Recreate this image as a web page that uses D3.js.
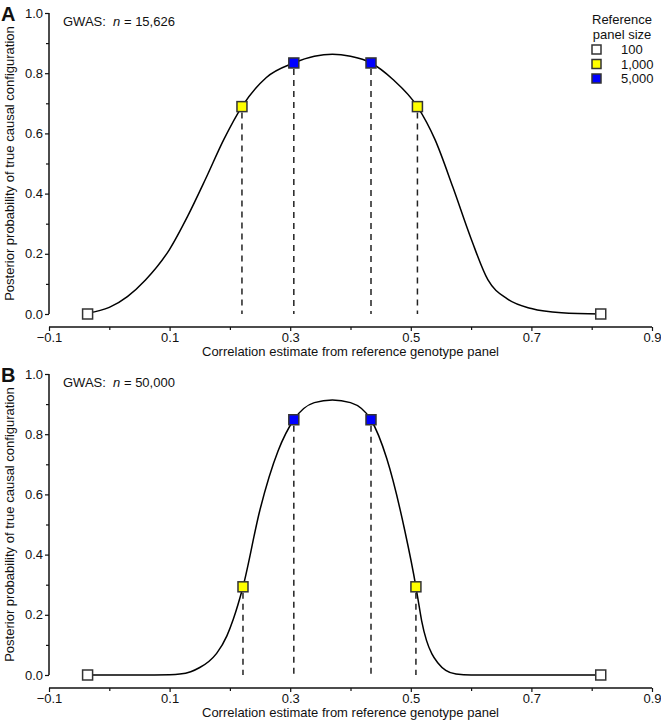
<!DOCTYPE html>
<html><head><meta charset="utf-8">
<script src="https://cdn.jsdelivr.net/npm/d3@7"></script>
<style>body{margin:0;background:#fff}svg text{font-family:"Liberation Sans",Arial,Helvetica,sans-serif;fill:#111}</style>
</head><body><svg id="c" width="661" height="720"></svg>
<script>
// ---- data ----
const panelSizes = ["100", "1,000", "5,000"];
const xTicks = [-0.1, 0.1, 0.3, 0.5, 0.7, 0.9];
const yTicks = [0.0, 0.2, 0.4, 0.6, 0.8, 1.0];
const gwasN = ["15,626", "50,000"];
// marker estimates (lower / upper) for each panel size
const estLow  = [-0.036, 0.220, 0.306];
const estHigh = [0.815, 0.511, 0.434];
const estLowB  = [-0.036, 0.2217, 0.306];
const estHighB = [0.815, 0.5085, 0.434];
const postA = [0.0, 0.689, 0.834];
const postB = [0.0, 0.293, 0.848];
// posterior curves
const curveAx = [-0.036, 0.0, 0.03, 0.06, 0.10, 0.13, 0.16, 0.19, 0.22, 0.26, 0.306, 0.34, 0.37, 0.40, 0.434, 0.47, 0.511, 0.54, 0.57, 0.60, 0.628, 0.66, 0.70, 0.75, 0.815];
const curveAy = [0.003, 0.022, 0.058, 0.113, 0.215, 0.325, 0.45, 0.58, 0.689, 0.785, 0.834, 0.856, 0.863, 0.856, 0.834, 0.78, 0.689, 0.58, 0.42, 0.25, 0.113, 0.05, 0.018, 0.004, 0.0];
const curveBx = [-0.036, 0.05, 0.10, 0.117, 0.135, 0.150, 0.165, 0.178, 0.195, 0.2056, 0.2217, 0.25, 0.28, 0.306, 0.34, 0.37, 0.40, 0.434, 0.46, 0.49, 0.5085, 0.5125, 0.518, 0.526, 0.535, 0.545, 0.558, 0.575, 0.60, 0.815];
const curveBy = [0.0, 0.0, 0.001, 0.003, 0.011, 0.025, 0.045, 0.072, 0.13, 0.185, 0.293, 0.55, 0.745, 0.848, 0.905, 0.914, 0.905, 0.848, 0.72, 0.48, 0.293, 0.245, 0.18, 0.115, 0.07, 0.04, 0.015, 0.003, 0.0, 0.0];

// ---- drawing ----
const svg = d3.select("#c");
const fills = ["#ffffff", "#ffff00", "#0000ff"];
const x = d3.scaleLinear().domain([-0.1, 0.9]).range([49, 652]);
const FS = 13;

const panels = [
  {letter: "A", top: 0, n: gwasN[0], lo: estLow, hi: estHigh, post: postA, cx: curveAx, cy: curveAy},
  {letter: "B", top: 361, n: gwasN[1], lo: estLowB, hi: estHighB, post: postB, cx: curveBx, cy: curveBy}
];

panels.forEach(p => {
  const g = svg.append("g").attr("transform", `translate(0,${p.top})`);
  const y = d3.scaleLinear().domain([0, 1]).range([314, 13]);

  // y axis
  const ya = g.append("g").attr("transform", "translate(49,0)")
    .call(d3.axisLeft(y).tickValues(yTicks).tickFormat(d3.format(".1f")).tickSize(4).tickPadding(2));
  g.append("g").attr("transform", "translate(49,0)")
    .call(d3.axisLeft(y).tickValues(d3.range(0.1, 1, 0.2)).tickFormat("").tickSize(3))
    .select(".domain").remove();
  // x axis
  const xa = g.append("g").attr("transform", "translate(0,327)")
    .call(d3.axisBottom(x).tickValues(xTicks).tickFormat(d => d3.format(".1f")(d)).tickSize(4).tickPadding(2));
  g.append("g").attr("transform", "translate(0,327)")
    .call(d3.axisBottom(x).tickValues(d3.range(0.0, 0.85, 0.2)).tickFormat("").tickSize(3))
    .select(".domain").remove();
  g.selectAll(".domain").attr("stroke", "#111").attr("stroke-width", 1.5);
  g.selectAll(".tick line").attr("stroke", "#111").attr("stroke-width", 1.2);
  g.selectAll(".tick text").attr("font-size", FS).attr("fill", "#111")
    .style("font-family", '"Liberation Sans", Arial, sans-serif');
  ya.select(".domain").attr("d", `M0,${y(1)}V${y(0)}`);
  xa.select(".domain").attr("d", `M${x(-0.1)},0H${x(0.9)}`);

  // axis titles
  g.append("text").attr("x", x(0.4)).attr("y", 356).attr("text-anchor", "middle")
    .attr("font-size", FS).text("Correlation estimate from reference genotype panel");
  g.append("text").attr("transform", `translate(14,${(y(0) + y(1)) / 2}) rotate(-90)`)
    .attr("text-anchor", "middle").attr("font-size", FS)
    .text("Posterior probability of true causal configuration");

  // panel letter
  g.append("text").attr("x", 1).attr("y", 21).attr("font-size", 20).attr("font-weight", "bold").text(p.letter);
  // GWAS label
  const t = g.append("text").attr("x", 63).attr("y", 26).attr("font-size", FS);
  t.append("tspan").text("GWAS:\u00a0\u00a0");
  t.append("tspan").attr("font-style", "italic").text("n");
  t.append("tspan").text(" = " + p.n);

  // dashed lines
  const pts = [];
  [0, 1, 2].forEach(i => {
    pts.push({x: p.lo[i], y: p.post[i], c: i});
    pts.push({x: p.hi[i], y: p.post[i], c: i});
  });
  g.selectAll("line.dash").data(pts.filter(d => d.c > 0)).join("line")
    .attr("x1", d => x(d.x)).attr("x2", d => x(d.x))
    .attr("y1", d => y(d.y) + 6).attr("y2", y(0))
    .attr("stroke", "#222").attr("stroke-width", 1.5).attr("stroke-dasharray", "6,5");

  // curve
  const line = d3.line().x(d => x(d[0])).y(d => y(d[1])).curve(d3.curveMonotoneX);
  g.append("path").datum(p.cx.map((v, i) => [v, p.cy[i]])).attr("d", line)
    .attr("fill", "none").attr("stroke", "#000").attr("stroke-width", 1.5);

  // markers
  g.selectAll("rect.m").data(pts).join("rect")
    .attr("x", d => x(d.x) - 5).attr("y", d => y(d.y) - 5)
    .attr("width", 10).attr("height", 10)
    .attr("fill", d => fills[d.c]).attr("stroke", "#333").attr("stroke-width", 1.5);
});

// legend
const lg = svg.append("g");
lg.append("text").attr("x", 622).attr("y", 24).attr("text-anchor", "middle").attr("font-size", FS).text("Reference");
lg.append("text").attr("x", 622).attr("y", 39).attr("text-anchor", "middle").attr("font-size", FS).text("panel size");
panelSizes.forEach((s, i) => {
  lg.append("rect").attr("x", 592).attr("y", 45 + i * 14.5).attr("width", 9).attr("height", 9)
    .attr("fill", fills[i]).attr("stroke", "#333").attr("stroke-width", 1.5);
  lg.append("text").attr("x", 621).attr("y", 54 + i * 14.5).attr("font-size", FS).text(s);
});
</script></body></html>
